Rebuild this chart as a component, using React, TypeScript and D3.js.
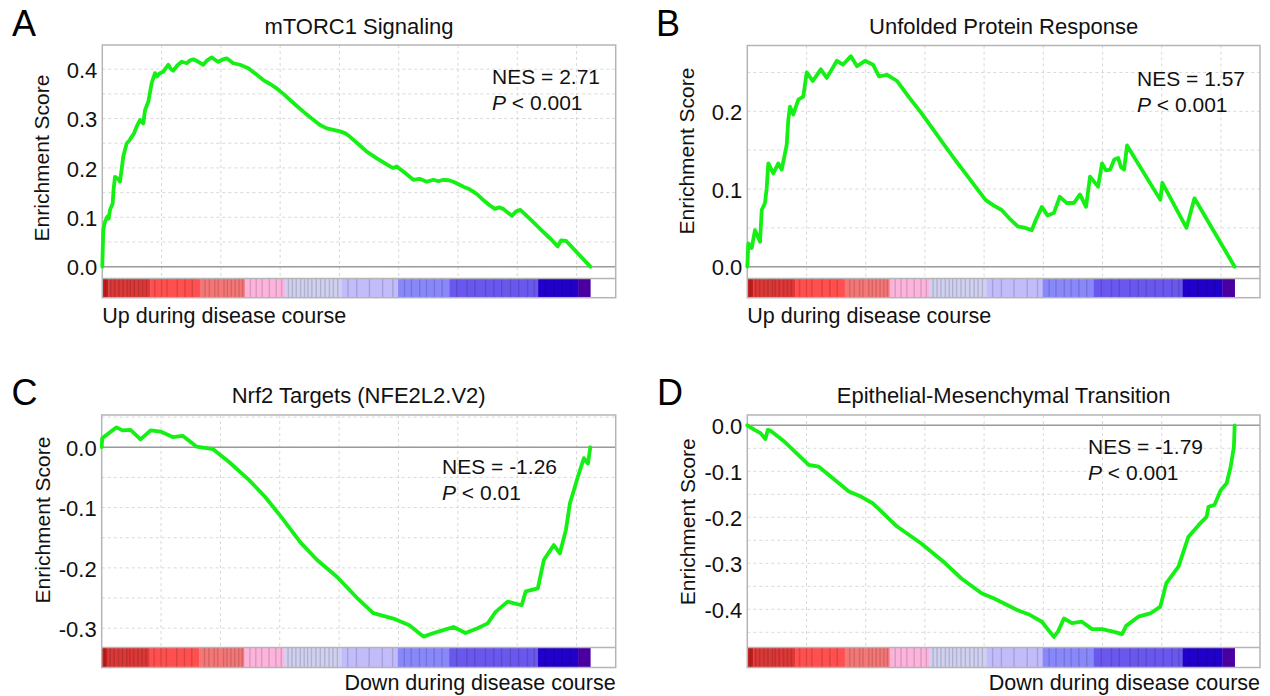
import React from "react";
import * as d3 from "d3";

// ---------- data ----------
const N_GENES = 20580; // ranked list length
const X_MAX = 21650; // axis extent (ranks)
const GRID_STEP = 2500;

const PANEL_LETTERS = ["A", "B", "C", "D"];
const TITLES = [
  "mTORC1 Signaling",
  "Unfolded Protein Response",
  "Nrf2 Targets (NFE2L2.V2)",
  "Epithelial-Mesenchymal Transition",
];
const NES_VALUES = ["2.71", "1.57", "-1.26", "-1.79"];
const P_VALUES = ["0.001", "0.001", "0.01", "0.001"];
const DIRECTION_LABELS = [
  "Up during disease course",
  "Up during disease course",
  "Down during disease course",
  "Down during disease course",
];
const Y_TICKS = [
  [0, 0.1, 0.2, 0.3, 0.4],
  [0, 0.1, 0.2],
  [0, -0.1, -0.2, -0.3],
  [0, -0.1, -0.2, -0.3, -0.4],
];
const Y_DOMAINS: [number, number][] = [
  [-0.024, 0.449],
  [-0.0152, 0.2847],
  [-0.332, 0.0535],
  [-0.483, 0.0224],
];

// running enrichment score: [position in ranked list (%), ES]
const ES_MTORC1: [number, number][] = [
  [0, 0], [0.2, 0.074], [0.55, 0.091], [1.02, 0.101], [1.3, 0.097], [1.58, 0.115], [2.13, 0.128],
  [2.3, 0.155], [2.6, 0.182], [3.2, 0.178], [3.63, 0.172], [4.3, 0.223], [5.0, 0.25], [5.5, 0.255],
  [6.02, 0.263], [6.5, 0.27], [7.05, 0.284], [7.73, 0.297], [8.4, 0.29], [8.75, 0.317], [9.43, 0.334],
  [10.12, 0.372], [10.8, 0.392], [11.15, 0.385], [11.8, 0.392], [12.5, 0.395], [13.52, 0.409],
  [14.1, 0.4], [14.55, 0.397], [15.4, 0.408], [16.27, 0.415], [17.3, 0.412], [18.0, 0.418],
  [18.65, 0.42], [19.67, 0.415], [20.7, 0.409], [21.5, 0.418], [22.42, 0.424], [23.1, 0.419],
  [23.77, 0.415], [24.8, 0.42], [25.49, 0.422], [26.84, 0.412], [28.22, 0.409], [29.92, 0.402],
  [31.5, 0.39], [32.99, 0.378], [34.4, 0.37], [35.74, 0.361], [37.1, 0.35], [38.46, 0.338],
  [39.8, 0.326], [41.19, 0.314], [42.9, 0.3], [44.61, 0.287], [46.0, 0.28], [47.34, 0.277],
  [48.71, 0.274], [49.8, 0.27], [50.76, 0.263], [52.5, 0.248], [54.18, 0.233], [56.5, 0.218],
  [58.95, 0.203], [59.6, 0.2], [60.33, 0.203], [62.0, 0.19], [63.73, 0.176], [65.0, 0.178],
  [66.48, 0.172], [67.83, 0.176], [68.9, 0.173], [69.88, 0.176], [71.0, 0.175], [71.93, 0.172],
  [73.0, 0.167], [73.98, 0.162], [75.0, 0.158], [76.02, 0.152], [77.0, 0.145], [78.07, 0.135],
  [79.3, 0.125], [80.43, 0.117], [81.3, 0.12], [82.17, 0.117], [83.0, 0.11], [83.91, 0.103],
  [84.8, 0.112], [85.66, 0.115], [88.0, 0.093], [90.18, 0.072], [92.0, 0.055], [93.32, 0.041],
  [93.99, 0.053], [95.06, 0.052], [100, 0],
];

const ES_UPR: [number, number][] = [
  [0, 0], [0.21, 0.03], [0.9, 0.024], [1.58, 0.047], [2.61, 0.032], [2.96, 0.073], [3.63, 0.082],
  [3.98, 0.101], [4.31, 0.133], [5.34, 0.12], [6.36, 0.133], [7.06, 0.125], [7.74, 0.146],
  [8.09, 0.157], [8.41, 0.189], [8.76, 0.206], [9.44, 0.196], [10.47, 0.215], [11.49, 0.219],
  [12.19, 0.25], [13.44, 0.239], [15.08, 0.254], [16.31, 0.243], [18.39, 0.265], [19.62, 0.26],
  [21.26, 0.271], [22.51, 0.258], [24.15, 0.265], [25.8, 0.26], [27.03, 0.245], [28.69, 0.247],
  [30.74, 0.239], [33.2, 0.218], [35.69, 0.198], [38.2, 0.176], [40.63, 0.155], [42.7, 0.137],
  [44.76, 0.12], [46.8, 0.103], [48.88, 0.086], [50.5, 0.079], [52.19, 0.073], [53.8, 0.062],
  [55.49, 0.052], [57.0, 0.05], [58.36, 0.047], [59.2, 0.06], [60.44, 0.077], [61.6, 0.066],
  [62.9, 0.069], [64.13, 0.09], [65.5, 0.082], [67.02, 0.082], [68.25, 0.093], [69.51, 0.077],
  [70.33, 0.116], [71.97, 0.103], [72.79, 0.133], [73.6, 0.124], [74.45, 0.125], [75.3, 0.138],
  [76.09, 0.14], [76.7, 0.128], [77.32, 0.125], [77.92, 0.156], [84.75, 0.086], [85.16, 0.108],
  [90.11, 0.05], [90.93, 0.069], [91.75, 0.088], [100, 0],
];

const ES_NRF2: [number, number][] = [
  [0, 0], [0.1, 0.015], [1.37, 0.023], [3.03, 0.033], [4.25, 0.028], [5.89, 0.029], [7.96, 0.013],
  [10.0, 0.028], [12.04, 0.026], [14.52, 0.017], [16.56, 0.019], [19.45, 0.001], [22.74, -0.003],
  [26.01, -0.024], [30.12, -0.054], [33.42, -0.082], [36.69, -0.115], [40.8, -0.159],
  [44.09, -0.187], [48.18, -0.215], [52.29, -0.25], [55.58, -0.275], [59.69, -0.284],
  [62.97, -0.295], [65.85, -0.314], [68.73, -0.306], [72.0, -0.298], [74.48, -0.308],
  [76.93, -0.3], [79.0, -0.292], [80.63, -0.273], [83.09, -0.256], [85.95, -0.262],
  [86.79, -0.239], [89.26, -0.234], [90.49, -0.187], [92.54, -0.162], [93.76, -0.176],
  [95.01, -0.137], [95.83, -0.093], [97.46, -0.049], [98.69, -0.018], [99.53, -0.027], [100, 0],
];

const ES_EMT: [number, number][] = [
  [0, 0], [1.48, -0.01], [2.71, -0.017], [3.71, -0.03], [4.21, -0.01], [4.78, -0.012],
  [7.65, -0.036], [10.14, -0.061], [12.6, -0.086], [14.67, -0.09], [17.55, -0.115],
  [20.85, -0.144], [23.33, -0.155], [25.8, -0.17], [30.74, -0.22], [35.69, -0.257],
  [40.63, -0.3], [43.94, -0.333], [48.06, -0.365], [50.54, -0.376], [55.49, -0.402],
  [57.95, -0.412], [60.44, -0.427], [62.9, -0.46], [63.72, -0.449], [64.97, -0.42],
  [66.61, -0.43], [68.66, -0.427], [70.74, -0.443], [72.79, -0.443], [75.27, -0.449],
  [76.91, -0.454], [77.73, -0.436], [80.22, -0.416], [82.68, -0.409], [84.75, -0.394],
  [85.98, -0.343], [88.47, -0.307], [90.52, -0.242], [92.59, -0.217], [94.23, -0.199],
  [94.64, -0.177], [95.87, -0.173], [97.13, -0.141], [98.36, -0.126], [99.18, -0.09],
  [99.84, -0.047], [100, 0],
];

const ES_CURVES = [ES_MTORC1, ES_UPR, ES_NRF2, ES_EMT];

// ranked-list heat bar: band end positions (%) and colours
const HEAT_BAND_ENDS = [1.2, 9.8, 20, 29.2, 37.4, 49.1, 60.6, 71.1, 89.3, 97.5, 100];
const HEAT_BAND_COLORS = [
  "#c41e1e", "#dc3838", "#ff4f4f", "#f57676", "#fcb4dc", "#d0d0f0",
  "#c2bcfa", "#8888fa", "#6a58ee", "#2200cc", "#4a00a0",
];
// darker stripes within the heat bar (%)
const HEAT_STRIPES = [
  0.5, 1.6, 2.4, 3.3, 4.1, 5.0, 5.6, 6.4, 7.3, 8.1, 8.9, 10.6, 12.0, 13.1, 15.2, 16.8, 18.3,
  20.9, 21.8, 22.9, 23.6, 24.8, 25.5, 26.3, 27.1, 27.9, 28.6, 30.2, 31.4, 32.6, 34.1, 35.5, 36.6,
  38.0, 38.8, 39.6, 40.5, 41.3, 42.0, 42.8, 43.7, 44.6, 45.5, 46.4, 47.2, 48.1, 50.2, 52.0,
  54.6, 57.3, 59.4, 61.8, 63.2, 64.9, 66.3, 67.9, 69.5, 72.5, 74.6, 76.2, 78.4, 80.1, 81.7,
  83.5, 85.2, 87.0, 88.4, 90.6, 92.4, 94.1, 95.8,
];

// ---------- layout ----------
const LAYOUT = [
  { left: 102.3, top: 45, width: 513.4, plotBottom: 278.5, heatBottom: 297.7, letterX: 12, letterY: 36, titleY: 33.5, axisX: 42, axisY: 158, nesX: 492, nesY: 83.5, labelY: 323, labelEnd: false },
  { left: 747.3, top: 45.5, width: 512.7, plotBottom: 278.5, heatBottom: 297.7, letterX: 656, letterY: 36, titleY: 33.5, axisX: 687, axisY: 151, nesX: 1137, nesY: 86, labelY: 323, labelEnd: false },
  { left: 101.7, top: 415, width: 514, plotBottom: 647.5, heatBottom: 667.5, letterX: 11.5, letterY: 405, titleY: 403, axisX: 43, axisY: 520, nesX: 442, nesY: 474, labelY: 689.5, labelEnd: true },
  { left: 747.3, top: 415, width: 512.7, plotBottom: 647.5, heatBottom: 667.5, letterX: 657, letterY: 405, titleY: 403.3, axisX: 687.5, axisY: 521.7, nesX: 1088, nesY: 453.5, labelY: 689.5, labelEnd: true },
];

const FONT = "'Liberation Sans', Arial, Helvetica, sans-serif";
const FS = 21;
const FS_TITLE = 22;
const FS_TICK = 22;
const FS_LABEL = 21.5;
const LINE_GREEN = "#14f014";

function bandIndex(p: number) {
  const i = d3.bisectRight(HEAT_BAND_ENDS, p);
  return Math.min(i, HEAT_BAND_ENDS.length - 1);
}

function Panel({ i }: { i: number }) {
  const L = LAYOUT[i];
  const right = L.left + L.width;
  const x = d3.scaleLinear().domain([0, X_MAX]).range([L.left, right]);
  const y = d3.scaleLinear().domain(Y_DOMAINS[i]).range([L.plotBottom, L.top]);
  const rank = (p: number) => (p / 100) * N_GENES;

  const [lo, hi] = Y_DOMAINS[i];
  const hGrid = d3.range(Math.ceil(lo / 0.05 - 1e-6), Math.floor(hi / 0.05 + 1e-6) + 1).map((k) => k * 0.05);
  const vGrid = d3.range(GRID_STEP, X_MAX, GRID_STEP);

  const line = d3
    .line<[number, number]>()
    .x((d) => x(rank(d[0])))
    .y((d) => y(d[1]));

  const bandStarts = [0, ...HEAT_BAND_ENDS.slice(0, -1)];
  const stripeW = x(rank(0.28)) - x(0);

  return (
    <g>
      <text x={L.letterX} y={L.letterY} fontSize={36} fontFamily={FONT} fill="#000">
        {PANEL_LETTERS[i]}
      </text>
      <text x={(L.left + right) / 2} y={L.titleY} fontSize={FS_TITLE} fontFamily={FONT} textAnchor="middle" fill="#111">
        {TITLES[i]}
      </text>
      {/* grid */}
      {hGrid.map((g) => (
        <line key={"h" + g} x1={L.left} x2={right} y1={y(g)} y2={y(g)} stroke="#d9d9d9" strokeWidth={1} strokeDasharray="3,3" />
      ))}
      {vGrid.map((g) => (
        <line key={"v" + g} x1={x(g)} x2={x(g)} y1={L.top} y2={L.plotBottom} stroke="#d9d9d9" strokeWidth={1} strokeDasharray="3,3" />
      ))}
      {/* zero line */}
      <line x1={L.left} x2={right} y1={y(0)} y2={y(0)} stroke="#9a9a9a" strokeWidth={1.5} />
      {/* heat bar */}
      {bandStarts.map((s, k) => (
        <rect key={"b" + k} x={x(rank(s))} width={x(rank(HEAT_BAND_ENDS[k])) - x(rank(s)) + 0.3} y={L.plotBottom} height={L.heatBottom - L.plotBottom} fill={HEAT_BAND_COLORS[k]} />
      ))}
      {HEAT_STRIPES.map((p) => (
        <rect key={"s" + p} x={x(rank(p))} width={stripeW} y={L.plotBottom} height={L.heatBottom - L.plotBottom}
          fill={d3.color(HEAT_BAND_COLORS[bandIndex(p)])!.darker(0.45).toString()} />
      ))}
      {/* frame */}
      <rect x={L.left} y={L.top} width={L.width} height={L.heatBottom - L.top} fill="none" stroke="#b5b5b5" strokeWidth={1.5} />
      <line x1={L.left} x2={right} y1={L.plotBottom} y2={L.plotBottom} stroke="#b5b5b5" strokeWidth={1.5} />
      {/* ES curve */}
      <path d={line(ES_CURVES[i]) || ""} fill="none" stroke={LINE_GREEN} strokeWidth={3.8} strokeLinejoin="round" strokeLinecap="round" />
      {/* y ticks */}
      {Y_TICKS[i].map((t) => (
        <text key={"t" + t} x={L.left - 5} y={y(t)} dy="0.4em" textAnchor="end" fontSize={FS_TICK} fontFamily={FONT} fill="#111">
          {t.toFixed(1)}
        </text>
      ))}
      <text transform={`translate(${L.axisX},${L.axisY}) rotate(-90)`} dy="0.35em" textAnchor="middle" fontSize={FS} fontFamily={FONT} fill="#111">
        Enrichment Score
      </text>
      {/* NES / P */}
      <text x={L.nesX} y={L.nesY} fontSize={FS} fontFamily={FONT} fill="#111">
        NES = {NES_VALUES[i]}
      </text>
      <text x={L.nesX} y={L.nesY + 26} fontSize={FS} fontFamily={FONT} fill="#111">
        <tspan fontStyle="italic">P</tspan>
        <tspan> &lt; {P_VALUES[i]}</tspan>
      </text>
      {/* direction label */}
      <text x={L.labelEnd ? right : L.left} y={L.labelY} textAnchor={L.labelEnd ? "end" : "start"} fontSize={FS_LABEL} fontFamily={FONT} fill="#111">
        {DIRECTION_LABELS[i]}
      </text>
    </g>
  );
}

export default function App() {
  return (
    <svg width={1270} height={696} style={{ position: "absolute", left: 0, top: 0, background: "#fff" }}>
      <rect width={1270} height={696} fill="#fff" />
      {[0, 1, 2, 3].map((i) => (
        <Panel key={i} i={i} />
      ))}
    </svg>
  );
}
